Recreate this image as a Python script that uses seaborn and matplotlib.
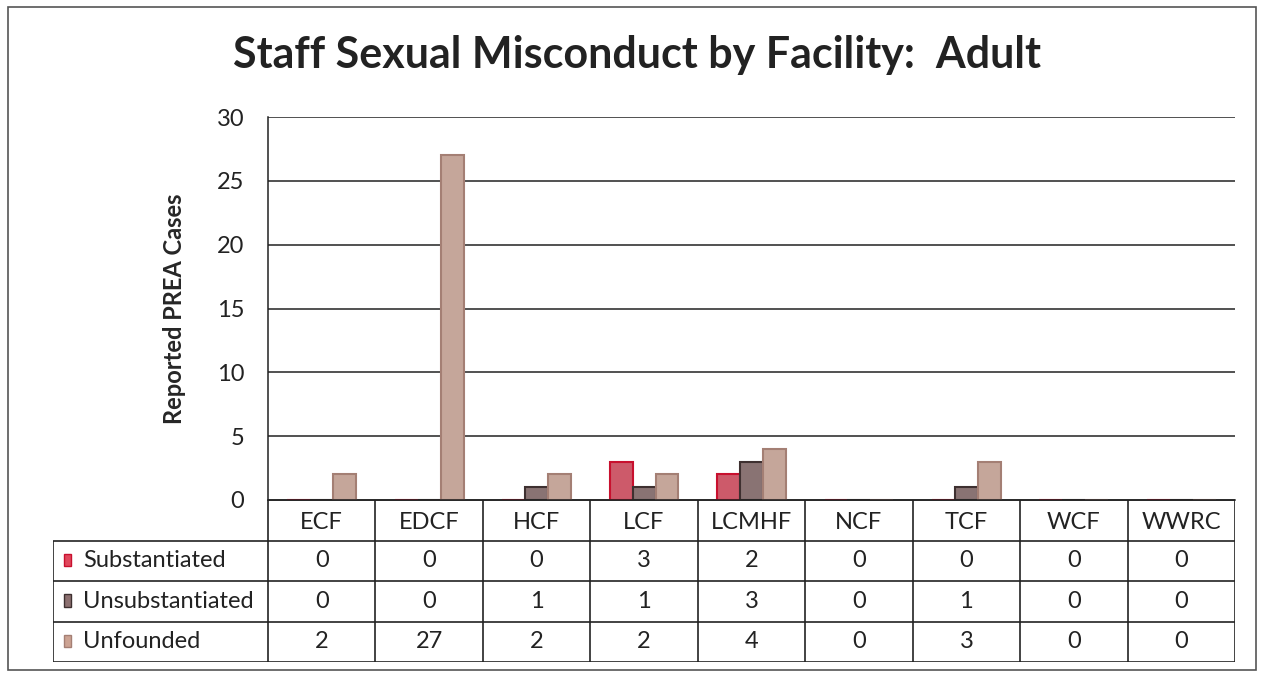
import pandas as pd
import numpy as np
from matplotlib import pyplot as plt
from matplotlib.patches import Rectangle
import seaborn as sns

# data
facilities = ["ECF", "EDCF", "HCF", "LCF", "LCMHF", "NCF", "TCF", "WCF", "WWRC"]
substantiated = [0, 0, 0, 3, 2, 0, 0, 0, 0]
unsubstantiated = [0, 0, 1, 1, 3, 0, 1, 0, 0]
unfounded = [2, 27, 2, 2, 4, 0, 3, 0, 0]
outcomes = ["Substantiated", "Unsubstantiated", "Unfounded"]
y_ticks = [0, 5, 10, 15, 20, 25, 30]

fills = ["#e0475c", "#8c7070", "#cca393"]
edges = ["#c8102e", "#3e3030", "#a47f74"]

rows = []
for name, vals in zip(outcomes, [substantiated, unsubstantiated, unfounded]):
    for fac, v in zip(facilities, vals):
        rows.append({"facility": fac, "outcome": name, "cases": v})
df = pd.DataFrame(rows)

sns.set_style("white")
plt.rcParams["font.family"] = ["Lato", "DejaVu Sans"]

W, H = 1262, 675
fig = plt.figure(figsize=(W / 100, H / 100), dpi=100)

# plot area in pixels
x0, x1 = 268, 1235
yb, yt = 500, 117
ax = fig.add_axes([x0 / W, 1 - yb / H, (x1 - x0) / W, (yb - yt) / H])

sns.barplot(data=df, x="facility", y="cases", hue="outcome", order=facilities,
            hue_order=outcomes, palette=fills, width=0.64, ax=ax, legend=False)
for cont, ec in zip(ax.containers, edges):
    for bar in cont:
        bar.set_edgecolor(ec)
        bar.set_linewidth(1.5)

ax.set_ylim(0, 30)
ax.set_xlim(-0.5, len(facilities) - 0.5)
ax.set_yticks(y_ticks)
ax.set_yticklabels([str(t) for t in y_ticks], fontsize=17, color="#222222")
ax.tick_params(axis="y", length=0, pad=17)
ax.set_xticks([])
ax.set_xlabel("")
ax.set_ylabel("Reported PREA Cases", fontsize=17, fontweight="bold", labelpad=22)
ax.yaxis.grid(True, color="#222222", linewidth=1.1)
ax.set_axisbelow(True)
for side in ["top", "right"]:
    ax.spines[side].set_visible(False)
ax.spines["left"].set_color("#222222")
ax.spines["bottom"].set_color("#222222")
ax.spines["left"].set_linewidth(1.1)
ax.spines["bottom"].set_linewidth(1.1)

fig.text(637 / W, 1 - 55 / H, "Staff Sexual Misconduct by Facility:  Adult",
         ha="center", va="center", fontsize=31, fontweight="bold", color="#222222")

# data table below the plot
tl, tb = 53, 662
tax = fig.add_axes([tl / W, 1 - tb / H, (x1 - tl) / W, (tb - yb) / H])
ncol = len(facilities)
lab_w = (x0 - tl) / ((x1 - x0) / ncol)
tax.set_xlim(-lab_w, ncol)
tax.set_ylim(4, 0)
tax.axis("off")
lc = "#222222"
# horizontal lines
tax.hlines([1, 2, 3, 4], -lab_w, ncol, color=lc, linewidth=1.2)
tax.hlines([0], 0, ncol, color=lc, linewidth=1.2)
# vertical lines
tax.vlines(range(ncol + 1), 0, 4, color=lc, linewidth=1.2)
tax.vlines([-lab_w], 1, 4, color=lc, linewidth=1.2)

for i, fac in enumerate(facilities):
    tax.text(i + 0.5, 0.55, fac, ha="center", va="center", fontsize=17, color="#222222")
for r, (name, vals) in enumerate(zip(outcomes, [substantiated, unsubstantiated, unfounded])):
    tax.add_patch(Rectangle((-lab_w + 0.10, r + 1.33), 0.065, 0.3,
                            facecolor=fills[r], edgecolor=edges[r], linewidth=1))
    tax.text(-lab_w + 0.28, r + 1.5, name, ha="left", va="center", fontsize=17, color="#222222")
    for i, v in enumerate(vals):
        tax.text(i + 0.5, r + 1.5, str(v), ha="center", va="center", fontsize=17, color="#222222")

# outer chart frame
fig.add_artist(Rectangle((8 / W, 5 / H), (W - 14) / W, (H - 12) / H, transform=fig.transFigure,
                         fill=False, edgecolor="#555555", linewidth=1.2))

fig.savefig("out.png", dpi=100)
